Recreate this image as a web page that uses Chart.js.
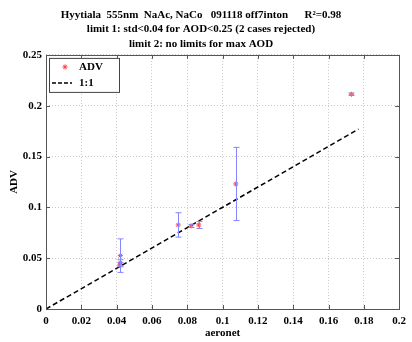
<!DOCTYPE html>
<html>
<head>
<meta charset="utf-8">
<script src="https://cdn.jsdelivr.net/npm/chart.js@4"></script>
<style>
  body { margin: 0; background: #fff; }
  canvas { display: block; }
</style>
</head>
<body>
<canvas id="grafico" width="412" height="342"></canvas>
<script>
// valores
const aeronet = [0.0421, 0.0421, 0.0419, 0.0749, 0.0822, 0.0865, 0.1075, 0.1730];
const adv     = [0.0525, 0.0455, 0.0435, 0.0827, 0.0817, 0.0827, 0.1230, 0.2113];
const advErr  = [0.0165, 0.0030, 0.0020, 0.0120, 0.0015, 0.0035, 0.0360, 0.0012];

const linhaX = [0, 0.177];
const linhaY = [0, 0.177];

const xTicks = [0, 0.02, 0.04, 0.06, 0.08, 0.1, 0.12, 0.14, 0.16, 0.18, 0.2];
const yTicks = [0, 0.05, 0.1, 0.15, 0.2, 0.25];

const tituloLinhas = [
  'Hyytiala  555nm  NaAc, NaCo   091118 off7inton      R\u00B2=0.98',
  'limit 1: std<0.04 for AOD<0.25 (2 cases rejected)',
  'limit 2: no limits for max AOD'
];

const fonte = 'Liberation Serif';
const fmt = v => String(Number(v.toFixed(3)));

// barras de erro, moldura e legenda
const extras = {
  id: 'extras',
  afterDatasetsDraw(chart) {
    const c = chart.ctx;
    const xs = chart.scales.x, ys = chart.scales.y;
    c.save();
    c.strokeStyle = '#8585ff';
    c.lineWidth = 1;
    aeronet.forEach((x, i) => {
      const px = Math.round(xs.getPixelForValue(x)) + 0.5;
      const top = ys.getPixelForValue(adv[i] + advErr[i]);
      const bot = ys.getPixelForValue(adv[i] - advErr[i]);
      c.beginPath();
      c.moveTo(px, top); c.lineTo(px, bot);
      c.moveTo(px - 3, top); c.lineTo(px + 3, top);
      c.moveTo(px - 3, bot); c.lineTo(px + 3, bot);
      c.stroke();
    });
    c.restore();
  },
  afterDraw(chart) {
    const c = chart.ctx;
    const a = chart.chartArea;
    const xs = chart.scales.x, ys = chart.scales.y;
    c.save();
    c.strokeStyle = '#555';
    c.lineWidth = 1;
    c.strokeRect(Math.round(a.left) + 0.5, Math.round(a.top) + 0.5,
      Math.round(a.right - a.left), Math.round(a.bottom - a.top));
    c.beginPath();
    xTicks.forEach(v => {
      const px = Math.round(xs.getPixelForValue(v)) + 0.5;
      c.moveTo(px, a.bottom); c.lineTo(px, a.bottom - 4);
      c.moveTo(px, a.top); c.lineTo(px, a.top + 4);
    });
    yTicks.forEach(v => {
      const py = Math.round(ys.getPixelForValue(v)) + 0.5;
      c.moveTo(a.left, py); c.lineTo(a.left + 4, py);
      c.moveTo(a.right, py); c.lineTo(a.right - 4, py);
    });
    c.stroke();

    // legenda
    const lx = a.left + 3, ly = a.top + 3;
    c.fillStyle = '#fff';
    c.fillRect(lx, ly, 70, 34);
    c.strokeStyle = '#444';
    c.strokeRect(lx + 0.5, ly + 0.5, 70, 34);
    c.strokeStyle = '#ff4040';
    c.beginPath();
    const sx = lx + 16, sy = ly + 9;
    for (let k = 0; k < 4; k++) {
      const ang = k * Math.PI / 4;
      c.moveTo(sx - 2.5 * Math.cos(ang), sy - 2.5 * Math.sin(ang));
      c.lineTo(sx + 2.5 * Math.cos(ang), sy + 2.5 * Math.sin(ang));
    }
    c.stroke();
    c.strokeStyle = '#000';
    c.lineWidth = 1.5;
    c.setLineDash([4, 2]);
    c.beginPath();
    c.moveTo(lx + 3, ly + 25); c.lineTo(lx + 23, ly + 25);
    c.stroke();
    c.setLineDash([]);
    c.fillStyle = '#000';
    c.font = 'bold 11px "' + fonte + '"';
    c.textBaseline = 'middle';
    c.fillText('ADV', lx + 30, sy);
    c.fillText('1:1', lx + 30, ly + 25);
    c.restore();
  }
};

const ctx = document.getElementById('grafico').getContext('2d');

new Chart(ctx, {
  type: 'scatter',
  data: {
    datasets: [
      {
        label: '1:1',
        type: 'line',
        data: linhaX.map((x, i) => ({ x: x, y: linhaY[i] })),
        borderColor: '#000',
        borderWidth: 1.5,
        borderDash: [5, 3],
        pointRadius: 0,
        fill: false
      },
      {
        label: 'ADV',
        data: aeronet.map((x, i) => ({ x: x, y: adv[i] })),
        pointStyle: 'star',
        pointRadius: 2.5,
        borderColor: '#ff4040',
        backgroundColor: '#ff4040',
        borderWidth: 1
      }
    ]
  },
  options: {
    responsive: false,
    animation: false,
    devicePixelRatio: 1,
    layout: { padding: { left: 0, right: 10, top: 0, bottom: 0 } },
    plugins: {
      legend: { display: false },
      tooltip: { enabled: false },
      title: {
        display: true,
        text: tituloLinhas,
        color: '#000',
        font: { family: fonte, size: 11, weight: 'bold', lineHeight: 1.3 },
        padding: { top: 8, bottom: 4 }
      }
    },
    scales: {
      x: {
        type: 'linear',
        min: 0, max: 0.2,
        afterBuildTicks: s => { s.ticks = xTicks.map(v => ({ value: v })); },
        afterFit: s => { s.height = 33; },
        ticks: {
          color: '#000', padding: 6,
          font: { family: fonte, size: 11, weight: 'bold' },
          callback: v => fmt(v),
          maxRotation: 0
        },
        grid: { color: '#c8c8c8', drawTicks: false },
        border: { display: false, dash: [1, 2] },
        title: {
          display: true, text: 'aeronet', color: '#000',
          font: { family: fonte, size: 11, weight: 'bold' },
          padding: { top: 0, bottom: 2 }
        }
      },
      y: {
        type: 'linear',
        min: 0, max: 0.25,
        afterBuildTicks: s => { s.ticks = yTicks.map(v => ({ value: v })); },
        afterFit: s => { s.width = 46; },
        ticks: {
          color: '#000', padding: 4,
          font: { family: fonte, size: 11, weight: 'bold' },
          callback: v => fmt(v)
        },
        grid: { color: '#c8c8c8', drawTicks: false },
        border: { display: false, dash: [1, 2] },
        title: {
          display: true, text: 'ADV', color: '#000',
          font: { family: fonte, size: 11, weight: 'bold' },
          padding: { top: 8, bottom: 0 }
        }
      }
    }
  },
  plugins: [extras]
});
</script>
</body>
</html>
